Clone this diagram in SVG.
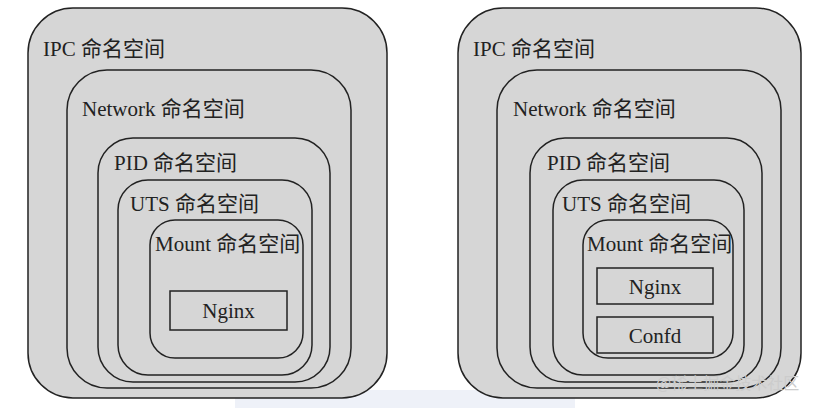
<svg xmlns="http://www.w3.org/2000/svg" width="826" height="408" viewBox="0 0 826 408">
<style>
.l{fill:#d6d6d6;stroke:#222;stroke-width:1.5}
.b{fill:#d6d6d6;stroke:#222;stroke-width:1.5}
text{font-family:"Liberation Serif","Noto Sans CJK SC",serif;font-size:21px;fill:#222}
.c{text-anchor:middle}
.w{font-family:"Noto Sans CJK SC",sans-serif;font-size:16px;fill:#ccc}
</style>
<rect x="0" y="0" width="826" height="408" fill="#fff"/>
<rect x="235" y="390" width="340" height="18" fill="#eef1f8"/>
<g id="left">
<g id="l-ipc"><rect class="l" x="28" y="8" width="359" height="390" rx="45"/><text x="43" y="56">IPC 命名空间</text></g>
<g id="l-net"><rect class="l" x="67" y="70" width="284" height="318" rx="40"/><text x="82" y="116">Network 命名空间</text></g>
<g id="l-pid"><rect class="l" x="98" y="138" width="232" height="244" rx="35"/><text x="114" y="170">PID 命名空间</text></g>
<g id="l-uts"><rect class="l" x="118" y="180" width="194" height="195" rx="30"/><text x="130" y="211">UTS 命名空间</text></g>
<g id="l-mount"><rect class="l" x="150" y="220" width="153" height="138" rx="25"/><text x="155" y="251">Mount 命名空间</text></g>
<g id="l-nginx"><rect class="b" x="170" y="291" width="117" height="39"/><text class="c" x="228.5" y="318">Nginx</text></g>
</g>
<g id="right">
<g id="r-ipc"><rect class="l" x="458" y="8" width="343" height="390" rx="45"/><text x="473" y="56">IPC 命名空间</text></g>
<g id="r-net"><rect class="l" x="497" y="70" width="284" height="318" rx="40"/><text x="513" y="116">Network 命名空间</text></g>
<g id="r-pid"><rect class="l" x="530" y="138" width="232" height="244" rx="35"/><text x="547" y="170">PID 命名空间</text></g>
<g id="r-uts"><rect class="l" x="553" y="180" width="191" height="195" rx="30"/><text x="562" y="211">UTS 命名空间</text></g>
<g id="r-mount"><rect class="l" x="583" y="220" width="150" height="138" rx="25"/><text x="587" y="251">Mount 命名空间</text></g>
<g id="r-nginx"><rect class="b" x="597" y="268" width="116" height="36"/><text class="c" x="655" y="294">Nginx</text></g>
<g id="r-confd"><rect class="b" x="597" y="317" width="116" height="36"/><text class="c" x="655" y="343">Confd</text></g>
</g>
<g id="connectors"/>
<text class="w" x="656" y="389">@稀土掘金技术社区</text>
</svg>
